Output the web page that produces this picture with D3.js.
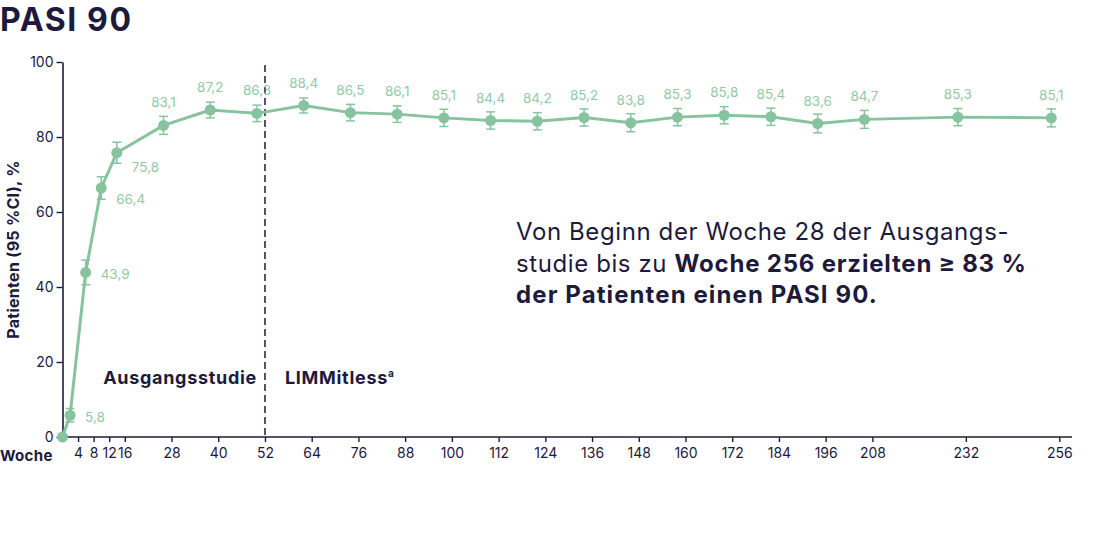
<!DOCTYPE html>
<html>
<head>
<meta charset="utf-8">
<script src="https://cdn.jsdelivr.net/npm/d3@7"></script>
<style>
  body { margin: 0; background: #fff; }
  svg { display: block; font-family: Inter, "Noto Sans", sans-serif; }
</style>
</head>
<body>
<div id="chart"></div>
<script>
var w = 1100;
var h = 539;

// Daten (Woche, PASI 90 in %, 95 % KI)
var weeks = [0, 4, 8, 12, 16, 28, 40, 52, 64, 76, 88, 100, 112, 124, 136, 148, 160, 172, 184, 196, 208, 232, 256];
var values = [0, 5.8, 43.9, 66.4, 75.8, 83.1, 87.2, 86.3, 88.4, 86.5, 86.1, 85.1, 84.4, 84.2, 85.2, 83.8, 85.3, 85.8, 85.4, 83.6, 84.7, 85.3, 85.1];
var ciLow = [0, 4.0, 40.6, 63.4, 73.0, 80.7, 85.1, 84.1, 86.4, 84.3, 83.9, 82.8, 82.1, 81.9, 82.9, 81.4, 83.0, 83.5, 83.1, 81.1, 82.3, 83.0, 82.7];
var ciHigh = [0, 7.6, 47.2, 69.4, 78.6, 85.5, 89.3, 88.5, 90.4, 88.7, 88.3, 87.4, 86.7, 86.5, 87.5, 86.2, 87.6, 88.1, 87.7, 86.1, 87.1, 87.6, 87.5];
var xTicks = [4, 8, 12, 16, 28, 40, 52, 64, 76, 88, 100, 112, 124, 136, 148, 160, 172, 184, 196, 208, 232, 256];
var yTicks = [0, 20, 40, 60, 80, 100];

var dark = "#1e1a3c";
var green = "#88c3a0";
var labelGreen = "#92c9a7";

var svg = d3.select("#chart")
  .append("svg")
  .attr("width", w)
  .attr("height", h);

var x = d3.scaleLinear().domain([0, 256]).range([62.5, 1059.3]);
var y = d3.scaleLinear().domain([0, 100]).range([437, 62]);

// Punkte sind im Original leicht links der Ticks gezeichnet
var shift = 8;
function px(i) { return weeks[i] === 0 ? x(0) : x(weeks[i]) - shift; }

var idx = d3.range(weeks.length);

// Titel
svg.append("text")
  .attr("x", 0).attr("y", 31)
  .style("font-size", "32px").style("font-weight", 700)
  .style("fill", dark)
  .style("letter-spacing", "1.6px")
  .text("PASI 90");

// y-Achse
var yAxis = svg.append("g")
  .attr("transform", "translate(" + x(0) + ",0)")
  .call(d3.axisLeft(y).tickValues(yTicks).tickSize(6).tickPadding(3).tickSizeOuter(0));
yAxis.select(".domain").attr("stroke", dark).attr("stroke-width", 1.6);
yAxis.selectAll(".tick line").attr("stroke", dark).attr("stroke-width", 1.4);
yAxis.selectAll(".tick text").style("font-size", "14px").style("fill", dark).style("font-family", "Inter, sans-serif");

// x-Achse
var xAxis = svg.append("g")
  .attr("transform", "translate(0," + y(0) + ")")
  .call(d3.axisBottom(x).tickValues(xTicks).tickSize(5).tickPadding(6));
xAxis.select(".domain").remove();
xAxis.selectAll(".tick line").attr("stroke", dark).attr("stroke-width", 1.4);
xAxis.selectAll(".tick text").style("font-size", "14px").style("fill", dark).style("font-family", "Inter, sans-serif");
svg.append("line")
  .attr("x1", x(0)).attr("x2", 1072)
  .attr("y1", y(0)).attr("y2", y(0))
  .attr("stroke", dark).attr("stroke-width", 1.6);

svg.append("text")
  .attr("x", 0).attr("y", y(0) + 24)
  .style("font-size", "15px").style("font-weight", 700).style("fill", dark)
  .style("letter-spacing", "0.3px")
  .text("Woche");

// y-Achsentitel
svg.append("text")
  .attr("transform", "translate(19," + y(50) + ") rotate(-90)")
  .attr("text-anchor", "middle")
  .style("font-size", "16px").style("font-weight", 700).style("fill", dark)
  .style("letter-spacing", "0.3px")
  .text("Patienten (95 %CI), %");

// gestrichelte Linie Woche 52
svg.append("line")
  .attr("x1", x(52)).attr("x2", x(52))
  .attr("y1", y(99.2)).attr("y2", y(0))
  .attr("stroke", dark).attr("stroke-width", 1.5)
  .attr("stroke-dasharray", "7,4");

svg.append("text")
  .attr("x", x(52) - 8).attr("y", 384)
  .attr("text-anchor", "end")
  .style("font-size", "18px").style("font-weight", 700).style("fill", dark)
  .style("letter-spacing", "0.7px")
  .text("Ausgangsstudie");

var lim = svg.append("text")
  .attr("x", x(52) + 20).attr("y", 384)
  .style("font-size", "18px").style("font-weight", 700).style("fill", dark)
  .style("letter-spacing", "0.7px");
lim.append("tspan").text("LIMMitless");
lim.append("tspan").attr("dy", -7).style("font-size", "10px").text("a");

// Fehlerbalken
var eb = svg.append("g").selectAll("g")
  .data(idx.filter(function(i) { return weeks[i] > 0; }))
  .enter().append("g")
  .attr("stroke", green).attr("stroke-width", 1.5);
eb.append("line")
  .attr("x1", function(i) { return px(i); }).attr("x2", function(i) { return px(i); })
  .attr("y1", function(i) { return y(ciLow[i]); }).attr("y2", function(i) { return y(ciHigh[i]); });
eb.append("line")
  .attr("x1", function(i) { return px(i) - 4.5; }).attr("x2", function(i) { return px(i) + 4.5; })
  .attr("y1", function(i) { return y(ciLow[i]); }).attr("y2", function(i) { return y(ciLow[i]); });
eb.append("line")
  .attr("x1", function(i) { return px(i) - 4.5; }).attr("x2", function(i) { return px(i) + 4.5; })
  .attr("y1", function(i) { return y(ciHigh[i]); }).attr("y2", function(i) { return y(ciHigh[i]); });

// Linie
var line = d3.line()
  .x(function(i) { return px(i); })
  .y(function(i) { return y(values[i]); });
svg.append("path")
  .datum(idx)
  .attr("d", line)
  .attr("fill", "none")
  .attr("stroke", green)
  .attr("stroke-width", 3)
  .attr("stroke-linejoin", "round");

svg.selectAll("circle.pt")
  .data(idx)
  .enter()
  .append("circle")
  .attr("class", "pt")
  .attr("cx", function(i) { return px(i); })
  .attr("cy", function(i) { return y(values[i]); })
  .attr("r", 5.5)
  .attr("fill", green);

// Beschriftungen der Werte
var fmt = function(v) { return d3.format(".1f")(v).replace(".", ","); };
svg.selectAll("text.val")
  .data(idx.filter(function(i) { return weeks[i] > 0; }))
  .enter()
  .append("text")
  .attr("class", "val")
  .attr("x", function(i) { return weeks[i] <= 16 ? px(i) + 15 : px(i); })
  .attr("y", function(i) {
    if (weeks[i] <= 8) return y(values[i]) + 7;
    if (weeks[i] === 12) return y(values[i]) + 16;
    if (weeks[i] === 16) return y(values[i]) + 19;
    return y(values[i]) - 18;
  })
  .attr("text-anchor", function(i) { return weeks[i] <= 16 ? "start" : "middle"; })
  .style("font-size", "13.5px")
  .style("fill", labelGreen)
  .text(function(i) { return fmt(values[i]); });

// Kernaussage
var note = svg.append("text")
  .style("font-size", "24px").style("fill", dark);
note.append("tspan").attr("x", 516).attr("y", 240).style("font-weight", 400)
  .style("letter-spacing", "0.6px")
  .text("Von Beginn der Woche 28 der Ausgangs-");
note.append("tspan").attr("x", 516).attr("y", 272).style("font-weight", 400)
  .style("letter-spacing", "0.6px")
  .text("studie bis zu ");
note.append("tspan").style("font-weight", 700)
  .style("letter-spacing", "0.8px")
  .text("Woche 256 erzielten \u2265 83 %");
note.append("tspan").attr("x", 516).attr("y", 303).style("font-weight", 700)
  .style("letter-spacing", "1.1px")
  .text("der Patienten einen PASI 90.");
</script>
</body>
</html>
